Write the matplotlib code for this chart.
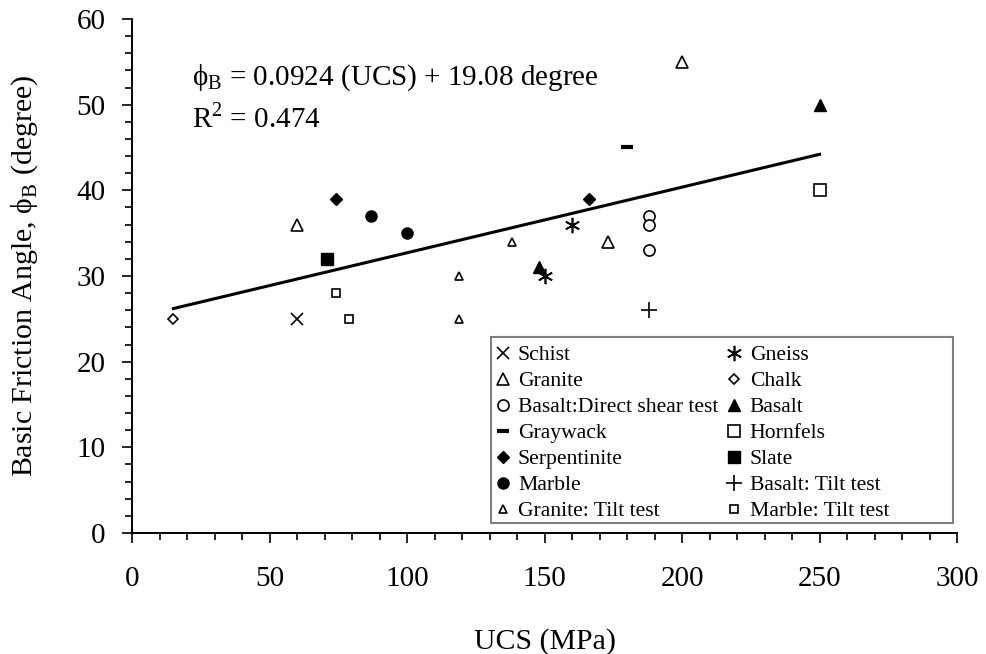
import numpy as np
import matplotlib
matplotlib.use("Agg")
import matplotlib.pyplot as plt
from matplotlib.ticker import MultipleLocator
from matplotlib.patches import Rectangle

plt.rcParams['font.family'] = ['Liberation Serif', 'DejaVu Serif']
plt.rcParams['mathtext.fontset'] = 'custom'
plt.rcParams['mathtext.rm'] = 'Liberation Serif'

# data: (UCS MPa, basic friction angle deg)
schist_x = [60]
schist_y = [25]
gneiss_x = [150, 160]
gneiss_y = [30, 36]
granite_x = [60, 173, 200]
granite_y = [36, 34, 55]
chalk_x = [15]
chalk_y = [25]
basalt_ds_x = [188, 188, 188]
basalt_ds_y = [37, 36, 33]
basalt_x = [148, 250]
basalt_y = [31, 50]
graywack_x = [180]
graywack_y = [45]
hornfels_x = [250]
hornfels_y = [40]
serp_x = [74, 166]
serp_y = [39, 39]
slate_x = [71]
slate_y = [32]
marble_x = [87, 100]
marble_y = [37, 35]
basalt_tilt_x = [188]
basalt_tilt_y = [26]
granite_tilt_x = [119, 119, 138]
granite_tilt_y = [30, 25, 34]
marble_tilt_x = [74, 79]
marble_tilt_y = [28, 25]

# trend line as drawn in the figure
trend_x = [15, 250]
trend_y = [26.2, 44.2]

fig = plt.figure(figsize=(9.86, 6.54), dpi=100)
ax = fig.add_axes([0.134, 0.185, 0.8366, 0.786])

ax.plot(trend_x, trend_y, color='black', lw=2.2, zorder=1)

k = dict(ls='none', color='black', zorder=3)
h = {}
h['Schist'], = ax.plot(schist_x, schist_y, marker='x', ms=9, mew=1.2, **k)
h['Gneiss'], = ax.plot(gneiss_x, gneiss_y, marker=(6, 2, 0), ms=11, mew=1.2, **k)
h['Granite'], = ax.plot(granite_x, granite_y, marker='^', ms=9, mfc='white', mew=1.2, **k)
h['Chalk'], = ax.plot(chalk_x, chalk_y, marker='D', ms=5.5, mfc='white', mew=1.2, **k)
h['Basalt:Direct shear test'], = ax.plot(basalt_ds_x, basalt_ds_y, marker='o', ms=8, mfc='white', mew=1.2, **k)
h['Basalt'], = ax.plot(basalt_x, basalt_y, marker='^', ms=9, **k)
h['Graywack'], = ax.plot(graywack_x, graywack_y, marker='_', ms=9, mew=3, **k)
h['Hornfels'], = ax.plot(hornfels_x, hornfels_y, marker='s', ms=8, mfc='white', mew=1.2, **k)
h['Serpentinite'], = ax.plot(serp_x, serp_y, marker='D', ms=6, **k)
h['Slate'], = ax.plot(slate_x, slate_y, marker='s', ms=8, **k)
h['Marble'], = ax.plot(marble_x, marble_y, marker='o', ms=8, **k)
h['Basalt: Tilt test'], = ax.plot(basalt_tilt_x, basalt_tilt_y, marker='+', ms=11, mew=1.2, **k)
h['Granite: Tilt test'], = ax.plot(granite_tilt_x, granite_tilt_y, marker='^', ms=6, mfc='white', mew=1.2, **k)
h['Marble: Tilt test'], = ax.plot(marble_tilt_x, marble_tilt_y, marker='s', ms=5.5, mfc='white', mew=1.2, **k)

ax.set_xlim(0, 300)
ax.set_ylim(0, 60)
ax.xaxis.set_major_locator(MultipleLocator(50))
ax.xaxis.set_minor_locator(MultipleLocator(10))
ax.yaxis.set_major_locator(MultipleLocator(10))
ax.yaxis.set_minor_locator(MultipleLocator(2))
ax.tick_params(which='major', length=7, width=1.2, labelsize=21, direction='out')
ax.tick_params(axis='x', which='major', pad=17)
ax.tick_params(axis='y', which='major', pad=12)
ax.tick_params(which='minor', length=5, width=1.2, direction='out')
for s in ['top', 'right']:
    ax.spines[s].set_visible(False)
for s in ['left', 'bottom']:
    ax.spines[s].set_linewidth(1.4)

ax.set_xlabel('UCS (MPa)', fontsize=21.5, labelpad=26)
ax.set_ylabel('Basic Friction Angle, ϕ$_\\mathregular{B}$ (degree)', fontsize=21.5, labelpad=26)

ax.text(0.073, 0.872, 'ϕ$_\\mathregular{B}$ = 0.0924 (UCS) + 19.08 degree', transform=ax.transAxes,
        fontsize=21, va='baseline')
ax.text(0.073, 0.790, 'R$^\\mathregular{2}$ = 0.474', transform=ax.transAxes,
        fontsize=21, va='baseline')

order = ['Schist', 'Granite', 'Basalt:Direct shear test', 'Graywack', 'Serpentinite', 'Marble',
         'Granite: Tilt test', 'Gneiss', 'Chalk', 'Basalt', 'Hornfels', 'Slate',
         'Basalt: Tilt test', 'Marble: Tilt test']
leg = ax.legend([h[n] for n in order], order, ncol=2, fontsize=15.6, loc='upper left',
                bbox_to_anchor=(494 / 986, 1 - 345 / 654), bbox_transform=fig.transFigure,
                frameon=False, borderaxespad=0, borderpad=0, labelspacing=0.27,
                handlelength=0.8, handletextpad=0.3, columnspacing=0.35)

# legend box (wider than its contents, as in the original)
fig.patches.append(Rectangle((491 / 986, 1 - 523 / 654), 462 / 986, 186 / 654,
                             transform=fig.transFigure, fill=False,
                             ec='#808080', lw=1.5, zorder=5))

fig.savefig('out.png', dpi=100)
